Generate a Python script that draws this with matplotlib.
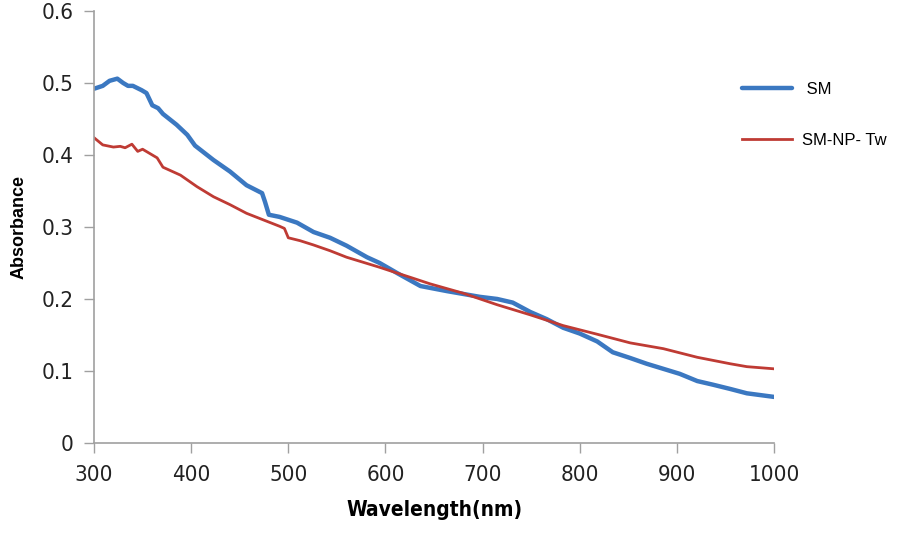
import matplotlib
matplotlib.use("Agg")
import matplotlib.pyplot as plt

# SM (blue)
wl_sm = [300, 309, 316, 324, 330, 335, 340, 349, 354, 360, 366, 371, 385, 396, 404,
         423, 440, 457, 473, 476, 480, 491, 509, 526, 543, 560, 581, 594, 612, 628,
         636, 663, 697, 715, 731, 749, 766, 783, 800, 818, 834, 852, 869, 886, 903,
         921, 937, 955, 972, 1000]
abs_sm = [0.492, 0.496, 0.503, 0.506, 0.500, 0.496, 0.496, 0.490, 0.486, 0.469, 0.465,
          0.457, 0.442, 0.428, 0.413, 0.393, 0.377, 0.358, 0.347, 0.335, 0.317, 0.314,
          0.306, 0.293, 0.285, 0.274, 0.258, 0.250, 0.236, 0.224, 0.218, 0.211, 0.203,
          0.200, 0.195, 0.182, 0.172, 0.160, 0.152, 0.141, 0.126, 0.118, 0.110, 0.103,
          0.096, 0.086, 0.081, 0.075, 0.069, 0.064]

# SM-NP- Tw (red)
wl_np = [300, 309, 320, 327, 332, 339, 345, 350, 365, 371, 389, 406, 423, 440, 457,
         474, 491, 496, 500, 512, 526, 543, 560, 594, 612, 628, 646, 680, 715, 749,
         783, 818, 852, 886, 921, 955, 972, 1000]
abs_np = [0.424, 0.414, 0.411, 0.412, 0.410, 0.415, 0.405, 0.408, 0.396, 0.383, 0.372,
          0.356, 0.342, 0.331, 0.319, 0.310, 0.301, 0.298, 0.285, 0.281, 0.275, 0.267,
          0.258, 0.244, 0.236, 0.229, 0.221, 0.208, 0.192, 0.178, 0.163, 0.151, 0.139,
          0.131, 0.119, 0.110, 0.106, 0.103]

xticks = [300, 400, 500, 600, 700, 800, 900, 1000]
yticks = [0, 0.1, 0.2, 0.3, 0.4, 0.5, 0.6]
ylabels = ["0", "0.1", "0.2", "0.3", "0.4", "0.5", "0.6"]

fig = plt.figure(figsize=(8.97, 5.33), dpi=100)
ax = fig.add_axes([0.1048, 0.1689, 0.7581, 0.8105])

ax.plot(wl_sm, abs_sm, color='#3B78C1', lw=3.2, label=' SM', solid_capstyle='round')
ax.plot(wl_np, abs_np, color='#BF3B34', lw=2.0, label='SM-NP- Tw')

ax.set_xlim(300, 1000)
ax.set_ylim(0, 0.6)
ax.set_xticks(xticks)
ax.set_xticklabels([str(v) for v in xticks])
ax.set_yticks(yticks)
ax.set_yticklabels(ylabels)

for s in ['top', 'right']:
    ax.spines[s].set_visible(False)
for s in ['left', 'bottom']:
    ax.spines[s].set_color('#A0A0A0')
    ax.spines[s].set_linewidth(1.2)
ax.tick_params(axis='both', direction='out', length=7, width=1.0, color='#A0A0A0',
               labelsize=16, labelcolor='#222222')
ax.tick_params(axis='y', pad=8)
ax.tick_params(axis='x', pad=9)
for t in ax.get_xticklabels() + ax.get_yticklabels():
    t.set_family('DejaVu Sans')
    t.set_stretch('condensed')

ax.set_xlabel('Wavelength(nm)', fontsize=15, fontweight='bold', fontstretch='condensed',
              labelpad=11)
ax.set_ylabel('Absorbance', fontsize=13, fontweight='bold', family=['Liberation Sans', 'DejaVu Sans'],
              labelpad=10)

leg = ax.legend(loc='upper left', bbox_to_anchor=(0.81, 0.875), bbox_transform=fig.transFigure,
                frameon=False, handlelength=3.0, labelspacing=2.2, handletextpad=0.6,
                prop={'family': ['Liberation Sans', 'DejaVu Sans'], 'size': 12})

fig.savefig('out.png', dpi=100)
